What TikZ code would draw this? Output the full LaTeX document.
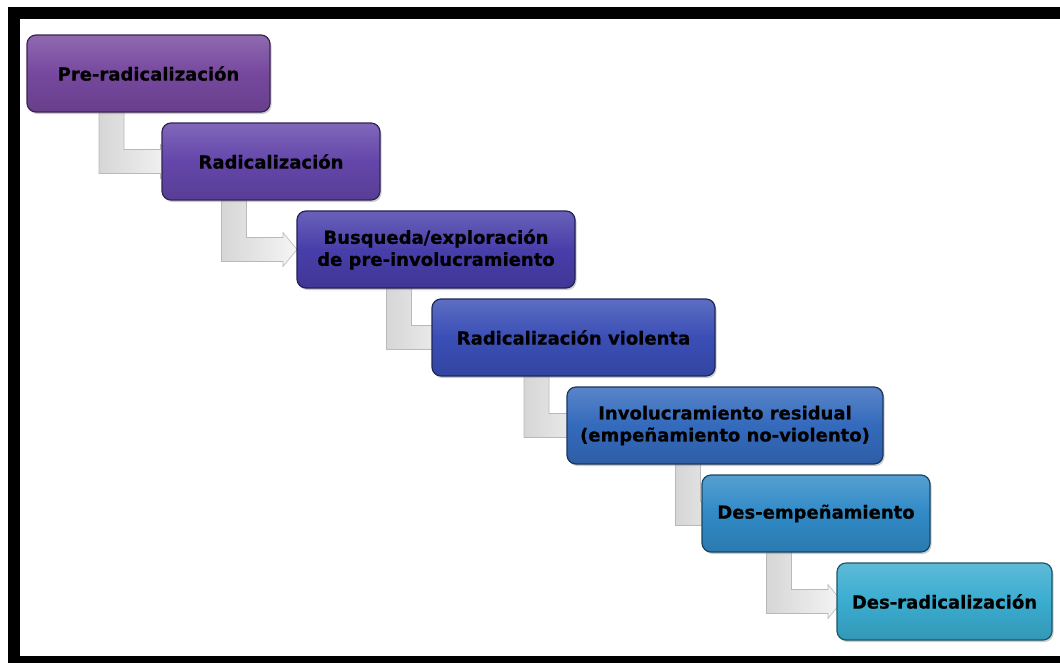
\documentclass[tikz,border=0pt]{standalone}
\usepackage{fontspec}
\setmainfont{DejaVu Sans}[BoldFeatures={FakeBold=0.6}]
\usetikzlibrary{shadows,calc}
\pgfdeclarelayer{back}
\pgfdeclarelayer{bg}
\pgfsetlayers{back,bg,main}
\definecolor{c1}{RGB}{118,72,158}
\definecolor{c2}{RGB}{100,70,170}
\definecolor{c3}{RGB}{72,62,170}
\definecolor{c4}{RGB}{58,78,182}
\definecolor{c5}{RGB}{52,106,188}
\definecolor{c6}{RGB}{48,138,198}
\definecolor{c7}{RGB}{58,172,208}
\newcommand\bendarrow[2]{%
\begin{pgfonlayer}{bg}
\path[conn] let \p1=(#1.center), \p2=(#2.west) in
 (\x1-49.5pt,\y1) -- (\x1-24.5pt,\y1) -- (\x1-24.5pt,\y2+12pt) -- (\x1+12pt,\y2+12pt)
 -- (\x1+12pt,\y2+17pt) -- (\x1+26pt,\y2) -- (\x1+12pt,\y2-17pt) -- (\x1+12pt,\y2-12pt)
 -- (\x1-49.5pt,\y2-12pt) -- cycle;
\end{pgfonlayer}}
\begin{document}
\begin{tikzpicture}[x=1pt,y=-1pt,
  stage/.style={draw=#1!50!black, line width=1.2pt, rounded corners=9pt,
    top color=#1!82!white, bottom color=#1!88!black, middle color=#1,
    minimum height=77pt, inner sep=0pt, align=center,
    font=\fontsize{18}{22}\selectfont\bfseries, text=black,
    drop shadow={opacity=0.4,shadow xshift=1.5pt,shadow yshift=-2pt}},
  conn/.style={left color=gray!32, right color=gray!8, draw=gray!55, line width=0.6pt}]
\useasboundingbox (0,0) rectangle (1060,662);
\begin{pgfonlayer}{back}
\fill[white] (0,0) rectangle (1060,662);
\fill[black] (8,7) rectangle (1070,670);
\fill[white] (20,19) rectangle (1070,656);
\end{pgfonlayer}
\node[stage=c1, minimum width=243pt] (b1) at (148.5,73.5) {Pre-radicalización};
\node[stage=c2, minimum width=218pt] (b2) at (271,161.5) {Radicalización};
\node[stage=c3, minimum width=278pt] (b3) at (436,249.5) {Busqueda/exploración\\de pre-involucramiento};
\node[stage=c4, minimum width=283pt] (b4) at (573.5,337.5) {Radicalización violenta};
\node[stage=c5, minimum width=316pt] (b5) at (725,425.5) {Involucramiento residual\\(empeñamiento no-violento)};
\node[stage=c6, minimum width=228pt] (b6) at (816,513.5) {Des-empeñamiento};
\node[stage=c7, minimum width=215pt] (b7) at (944.5,601.5) {Des-radicalización};
\bendarrow{b1}{b2}
\bendarrow{b2}{b3}
\bendarrow{b3}{b4}
\bendarrow{b4}{b5}
\bendarrow{b5}{b6}
\bendarrow{b6}{b7}
\end{tikzpicture}
\end{document}
